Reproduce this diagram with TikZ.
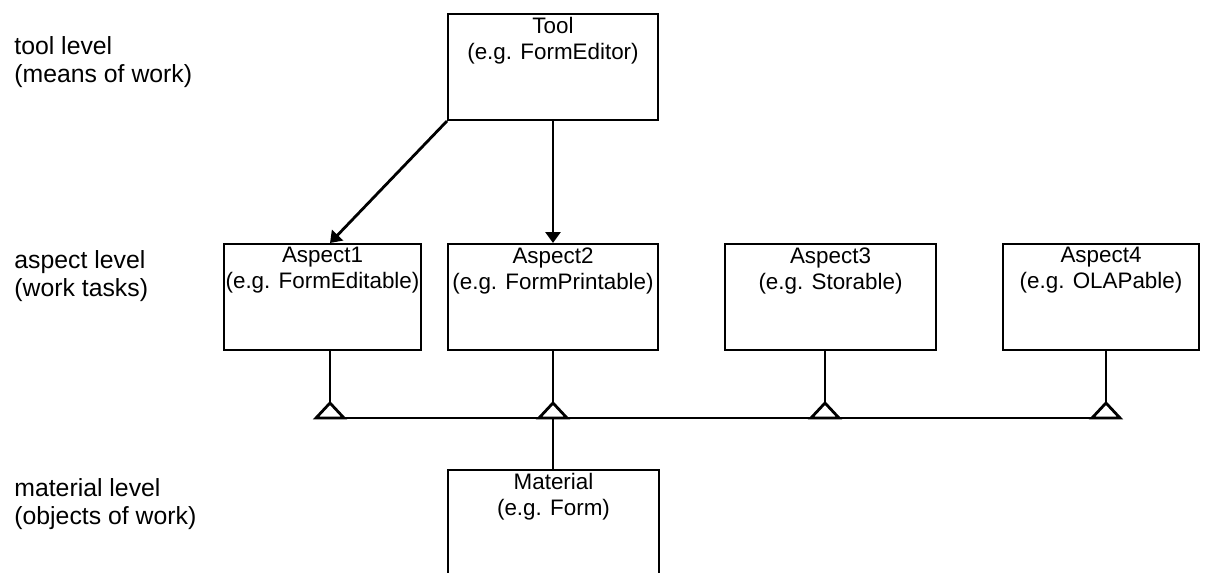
\documentclass[tikz,border=0pt]{standalone}
\usepackage{fontspec}
\setmainfont{Liberation Sans}
\usetikzlibrary{positioning,arrows.meta}

\tikzset{
  box/.style={draw, line width=1pt, anchor=north west, inner sep=0pt,
              minimum height=53pt},
  boxtext/.style={anchor=north, align=center, inner sep=0pt,
                  font=\fontsize{11.2}{13}\selectfont},
  leveltext/.style={anchor=north west, align=left, inner sep=0pt,
                    font=\fontsize{12.4}{14}\selectfont},
  link/.style={line width=1.4pt},
}

\begin{document}
\begin{tikzpicture}[x=0.5pt,y=-0.5pt,>={Triangle[length=5.5pt,width=7.5pt]}]

  \useasboundingbox (0,0) rectangle (1206,573);
  \clip (0,0) rectangle (1206,573);

  \begin{scope}   % levels on the left

    \node[leveltext] (lt) at (14,36)  {tool level\\(means of work)};
    \node[leveltext] (la) at (14,250) {aspect level\\(work tasks)};
    \node[leveltext] (lm) at (14,478) {material level\\(objects of work)};

  \end{scope}

  \begin{scope}   % boxes

    \node[box, minimum width=105pt]   (tool) at (447,13)  {};
    \node[box, minimum width=98.5pt]  (a1)   at (223,243) {};
    \node[box, minimum width=105pt]   (a2)   at (447,243) {};
    \node[box, minimum width=105.5pt] (a3)   at (724,243) {};
    \node[box, minimum width=98pt]    (a4)   at (1002,243) {};
    \node[box, minimum width=105.5pt, minimum height=70pt] (mat) at (447,469) {};

    \node[boxtext, below=2pt of tool.north] (tooltxt) {Tool\\(e.g. FormEditor)};
    \node[boxtext, below=2pt of a1.north]   (a1txt)   {Aspect1\\(e.g. FormEditable)};
    \node[boxtext, below=2pt of a2.north]   (a2txt)   {Aspect2\\(e.g. FormPrintable)};
    \node[boxtext, below=2pt of a3.north]   (a3txt)   {Aspect3\\(e.g. Storable)};
    \node[boxtext, below=2pt of a4.north]   (a4txt)   {Aspect4\\(e.g. OLAPable)};
    \node[boxtext, below=2pt of mat.north]  (mattxt)  {Material\\(e.g. Form)};

  \end{scope}

  \begin{scope}   % connections

    \coordinate (t1) at (330,403);
    \coordinate (t2) at (553,403);
    \coordinate (t3) at (825,403);
    \coordinate (t4) at (1106,403);

    \draw[link, ->] (tool.south west) -- (a1.north -| t1);
    \draw[link, ->] (tool.south -| t2) -- (a2.north -| t2);

    \draw[link] (a1.south -| t1) -- (t1);
    \draw[link] (a2.south -| t2) -- (t2);
    \draw[link] (a3.south -| t3) -- (t3);
    \draw[link] (a4.south -| t4) -- (t4);

    \foreach \t in {t1,t2,t3,t4}
      \draw[link, line join=miter] (\t) -- ++(-14,15) -- ++(28,0) -- cycle;

    \coordinate (busl) at (316,418);
    \coordinate (busr) at (1120,418);
    \draw[link] (busl) -- (busr);

    \draw[link] (t2 |- busl) -- (t2 |- mat.north);

  \end{scope}

\end{tikzpicture}
\end{document}
